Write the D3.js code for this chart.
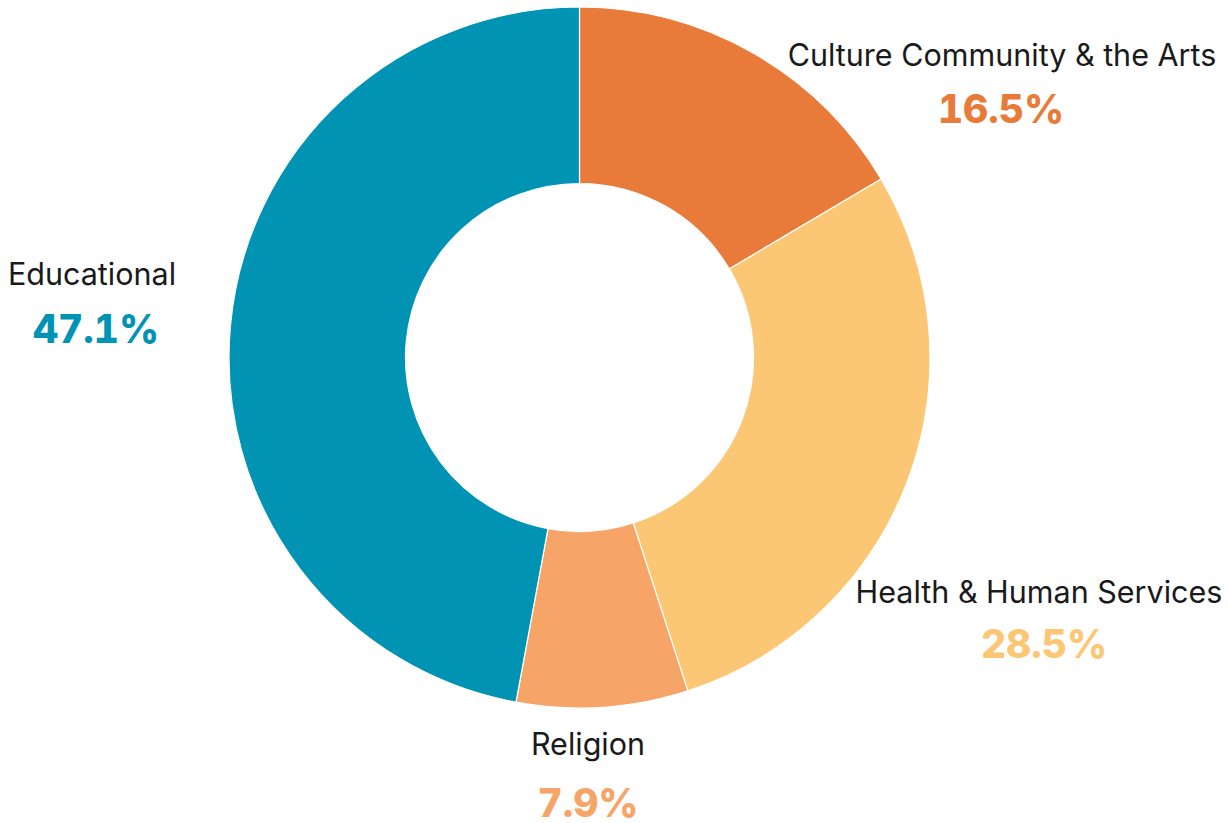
<!DOCTYPE html>
<html>
<head>
<meta charset="utf-8">
<script src="https://cdn.jsdelivr.net/npm/d3@7"></script>
<style>
  body { margin: 0; background: #fff; }
  .cat { font-family: Inter, "Noto Sans", sans-serif; font-size: 30.5px; fill: #1a1a1a; }
  .pct { font-family: Inter, "Noto Sans", sans-serif; font-size: 39px; font-weight: 800;
         font-variant-numeric: tabular-nums; }
</style>
</head>
<body>
<div id="chart"></div>
<script>
// slice data, clockwise from 12 o'clock
var categories = ["Culture Community & the Arts", "Health & Human Services", "Religion", "Educational"];
var values = [16.5, 28.5, 7.9, 47.1];
var pctLabels = ["16.5%", "28.5%", "7.9%", "47.1%"];

var svgWidth = 1228;
var svgHeight = 823;

var cx = 579.5, cy = 357.5;
var outerR = 350.5, innerR = 174;

var color = d3.scaleOrdinal()
  .domain(categories)
  .range(["#E87B3A", "#FCC774", "#F6A467", "#0093B3"]);

// where each label block sits: name centre x, name baseline, pct centre x, pct baseline
var labelPos = {
  "Culture Community & the Arts": [1002, 66, 1001, 123],
  "Health & Human Services": [1039, 603, 1044, 658],
  "Religion": [588, 755, 588, 817],
  "Educational": [92, 285, 96, 343]
};

var rows = categories.map(function(c, i) {
  return { name: c, value: values[i], pct: pctLabels[i] };
});

var svg = d3.select("#chart")
  .append("svg")
  .attr("width", svgWidth)
  .attr("height", svgHeight);

var pie = d3.pie()
  .sort(null)
  .value(d => d.value);

var arc = d3.arc()
  .innerRadius(innerR)
  .outerRadius(outerR);

var g = svg.append("g")
  .attr("transform", `translate(${cx}, ${cy})`);

g.selectAll("path")
  .data(pie(rows))
  .enter()
  .append("path")
  .attr("d", arc)
  .attr("fill", d => color(d.data.name))
  .attr("stroke", "#fff")
  .attr("stroke-width", 1.2);

// category names
svg.selectAll("text.cat")
  .data(rows)
  .enter()
  .append("text")
  .attr("class", "cat")
  .attr("text-anchor", "middle")
  .attr("x", d => labelPos[d.name][0])
  .attr("y", d => labelPos[d.name][1])
  .text(d => d.name);

// percentages
svg.selectAll("text.pct")
  .data(rows)
  .enter()
  .append("text")
  .attr("class", "pct")
  .attr("text-anchor", "middle")
  .attr("x", d => labelPos[d.name][2])
  .attr("y", d => labelPos[d.name][3])
  .attr("fill", d => color(d.name))
  .text(d => d.pct);
</script>
</body>
</html>
